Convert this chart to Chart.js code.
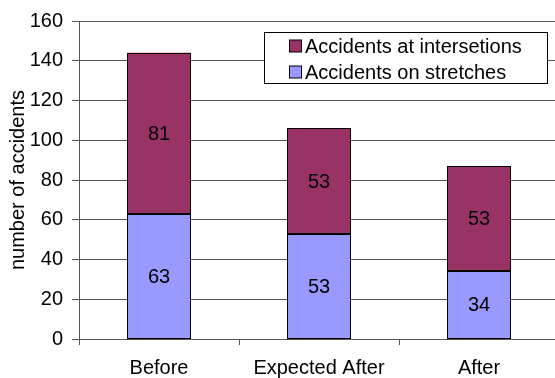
<!DOCTYPE html>
<html>
<head>
<meta charset="utf-8">
<script src="https://cdn.jsdelivr.net/npm/chart.js@4/dist/chart.umd.min.js"></script>
<style>
  html, body { margin: 0; padding: 0; background: #fff; overflow: hidden; }
  #wrap { width: 555px; height: 378px; overflow: hidden; position: relative; }
  canvas { display: block; }
</style>
</head>
<body>
<div id="wrap"><canvas id="c" width="559" height="378"></canvas></div>
<script>
// Accident counts per period, split by location type
const categories = ['Before', 'Expected After', 'After'];
const onStretches = [63, 53, 34];
const atIntersections = [81, 53, 53];
const yTicks = [0, 20, 40, 60, 80, 100, 120, 140, 160];

const seriesNames = ['Accidents on stretches', 'Accidents at intersetions'];
const FONT = "'Liberation Sans', Arial, sans-serif";
const LINE = '#555555';

// Crisp black outline around every bar segment, then its value centred inside
const segmentOutlineAndLabels = {
  id: 'segmentOutlineAndLabels',
  afterDatasetsDraw(chart) {
    const ctx = chart.ctx;
    ctx.save();
    ctx.strokeStyle = '#000';
    ctx.lineWidth = 1;
    chart.data.datasets.forEach((ds, di) => {
      chart.getDatasetMeta(di).data.forEach(bar => {
        const l = Math.round(bar.x - bar.width / 2) + 0.5;
        const r = Math.round(bar.x + bar.width / 2) - 0.5;
        const t = Math.round(Math.min(bar.y, bar.base)) + 0.5;
        const b = Math.round(Math.max(bar.y, bar.base)) - 0.5;
        ctx.strokeRect(l, t, r - l, b - t);
      });
    });
    ctx.font = '20px ' + FONT;
    ctx.fillStyle = '#000';
    ctx.textAlign = 'center';
    ctx.textBaseline = 'middle';
    chart.data.datasets.forEach((ds, di) => {
      chart.getDatasetMeta(di).data.forEach((bar, i) => {
        const mid = (bar.y + bar.base) / 2;
        ctx.fillText(String(ds.data[i]), bar.x, mid + 1);
      });
    });
    ctx.restore();
  }
};

// Boxed legend placed inside the plot, top series listed first
const boxedLegend = {
  id: 'boxedLegend',
  afterDraw(chart) {
    const ctx = chart.ctx;
    const x0 = 264.5, y0 = 32.5, w = 283, h = 51;
    ctx.save();
    ctx.fillStyle = '#fff';
    ctx.fillRect(x0, y0, w, h);
    ctx.strokeStyle = '#000';
    ctx.lineWidth = 1;
    ctx.strokeRect(x0, y0, w, h);
    ctx.font = '20px ' + FONT;
    ctx.textBaseline = 'middle';
    ctx.textAlign = 'left';
    const items = chart.data.datasets.slice().reverse();
    const rows = [46, 72];
    items.forEach((ds, k) => {
      const cy = rows[k];
      ctx.fillStyle = ds.backgroundColor;
      ctx.fillRect(289.5, cy - 6, 12, 12);
      ctx.strokeStyle = '#000';
      ctx.strokeRect(289.5, cy - 6, 12, 12);
      ctx.fillStyle = '#000';
      ctx.fillText(ds.label, 305, cy + 1);
    });
    ctx.restore();
  }
};

new Chart(document.getElementById('c'), {
  type: 'bar',
  data: {
    labels: categories,
    datasets: [
      {
        label: seriesNames[0],
        data: onStretches,
        backgroundColor: '#9999ff',
        borderWidth: 0,
        inflateAmount: 0
      },
      {
        label: seriesNames[1],
        data: atIntersections,
        backgroundColor: '#993366',
        borderWidth: 0,
        inflateAmount: 0
      }
    ]
  },
  options: {
    responsive: false,
    animation: false,
    devicePixelRatio: 1,
    layout: { padding: { top: 17, right: 0, left: 0, bottom: 0 } },
    datasets: { bar: { categoryPercentage: 1, barPercentage: 0.4 } },
    plugins: {
      legend: { display: false },
      tooltip: { enabled: false }
    },
    scales: {
      x: {
        stacked: true,
        offset: true,
        grid: { offset: true, drawOnChartArea: false, drawTicks: true, tickLength: 6, color: LINE },
        border: { color: LINE, width: 1 },
        ticks: { color: '#000', font: { family: FONT, size: 20 }, padding: 11, maxRotation: 0, autoSkip: false },
        afterFit(scale) { scale.height = 39; }
      },
      y: {
        stacked: true,
        min: 0,
        max: 160,
        afterBuildTicks(scale) { scale.ticks = yTicks.map(v => ({ value: v })); },
        grid: { color: LINE, drawTicks: true, tickLength: 7 },
        border: { color: LINE, width: 1 },
        ticks: { color: '#000', font: { family: FONT, size: 20 }, padding: 9 },
        title: {
          display: true,
          text: 'number of accidents',
          color: '#000',
          font: { family: FONT, size: 20 },
          padding: { top: 6, bottom: 0 }
        },
        afterFit(scale) { scale.width = 79; }
      }
    }
  },
  plugins: [segmentOutlineAndLabels, boxedLegend]
});
</script>
</body>
</html>
